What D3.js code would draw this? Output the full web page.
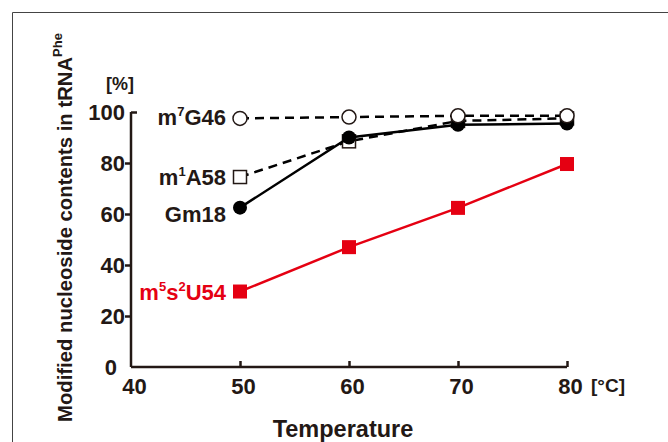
<!DOCTYPE html>
<html>
<head>
<meta charset="utf-8">
<script src="https://cdn.jsdelivr.net/npm/d3@7"></script>
<style>
  body { margin: 0; background: #fff; }
  svg text { font-family: "Liberation Sans", Arial, sans-serif; font-weight: bold; }
</style>
</head>
<body>
<svg id="chart" width="668" height="442"></svg>
<script>
// dados
const temps = [50, 60, 70, 80];
const xTicks = [40, 50, 60, 70, 80];
const yTicks = [0, 20, 40, 60, 80, 100];
const m7G46 = [97.5, 98, 98.5, 98.5];
const m1A58 = [74.5, 88.5, 96.5, 97.5];
const gm18 = [62.5, 90, 95, 95.5];
const m5s2U54 = [29.6, 47, 62.4, 79.6];

const ink = "#231815";
const red = "#e50012";

const svg = d3.select("#chart");

// moldura
svg.append("path")
  .attr("d", "M12.5,442 V12.5 H668")
  .attr("fill", "none")
  .attr("stroke", "#444")
  .attr("stroke-width", 1);

const x = d3.scaleLinear().domain([40, 80]).range([131, 567]);
const y = d3.scaleLinear().domain([0, 100]).range([367, 112]);

// eixo Y
const yAxis = svg.append("g")
  .attr("transform", `translate(${x(40)},0)`)
  .call(d3.axisLeft(y).tickValues(yTicks).tickSize(6).tickPadding(0));
yAxis.select(".domain").attr("d", `M0,${y(0)} V${y(100)}`);
yAxis.selectAll("line").attr("stroke", ink).attr("stroke-width", 2.5);
yAxis.selectAll(".tick").filter(d => d === 0).select("line").remove();
yAxis.selectAll(".tick").filter(d => d === 100).select("line").attr("x2", 6);
yAxis.selectAll("text")
  .attr("font-size", 22).attr("fill", ink)
  .attr("dy", "0.36em");
yAxis.selectAll(".tick").filter(d => d === 0).select("text").attr("dx", -8);

// eixo X
const xAxis = svg.append("g")
  .attr("transform", `translate(0,${y(0)})`)
  .call(d3.axisBottom(x).tickValues(xTicks).tickSize(-6).tickPadding(0));
xAxis.select(".domain").attr("d", `M${x(40)},0 H${x(80)}`);
xAxis.selectAll("line").attr("stroke", ink).attr("stroke-width", 2.5);
xAxis.selectAll(".tick").filter(d => d === 40).select("line").remove();
xAxis.selectAll("text")
  .attr("font-size", 22).attr("fill", ink)
  .attr("y", 0).attr("dy", 27).attr("dx", 3);
svg.selectAll(".domain").attr("stroke", ink).attr("stroke-width", 2.5);

// unidades
svg.append("text").attr("x", 120).attr("y", 90)
  .attr("text-anchor", "middle").attr("font-size", 18).attr("fill", ink)
  .text("[%]");
svg.append("text").attr("x", 591).attr("y", 392)
  .attr("font-size", 19).attr("fill", ink)
  .text("[°C]");

// titulo eixo Y
const yTitle = svg.append("text")
  .attr("transform", "translate(72,422) rotate(-90)")
  .attr("font-size", 20.3).attr("fill", ink);
yTitle.append("tspan").text("Modified nucleoside contents in tRNA");
yTitle.append("tspan").attr("font-size", 13).attr("dy", -10).text("Phe");

// titulo eixo X
svg.append("text").attr("x", 343).attr("y", 437)
  .attr("text-anchor", "middle").attr("font-size", 23.5).attr("fill", ink)
  .text("Temperature");

const line = d3.line().x(d => x(d[0])).y(d => y(d[1]));
const pts = vals => temps.map((t, i) => [t, vals[i]]);

// m1A58 - quadrado aberto, tracejado
svg.append("path").datum(pts(m1A58)).attr("d", line)
  .attr("fill", "none").attr("stroke", "#000").attr("stroke-width", 2.5)
  .attr("stroke-dasharray", "9,6");
svg.selectAll("rect.m1a").data(pts(m1A58)).enter().append("rect")
  .attr("x", d => x(d[0]) - 6.5).attr("y", d => y(d[1]) - 6.5)
  .attr("width", 13).attr("height", 13)
  .attr("fill", "#fff").attr("stroke", ink).attr("stroke-width", 1.5);

// Gm18 - circulo cheio, linha continua
svg.append("path").datum(pts(gm18)).attr("d", line)
  .attr("fill", "none").attr("stroke", "#000").attr("stroke-width", 2.5);
svg.selectAll("circle.gm").data(pts(gm18)).enter().append("circle")
  .attr("cx", d => x(d[0])).attr("cy", d => y(d[1])).attr("r", 7)
  .attr("fill", "#000");

// m7G46 - circulo aberto, tracejado
svg.append("path").datum(pts(m7G46)).attr("d", line)
  .attr("fill", "none").attr("stroke", "#000").attr("stroke-width", 2.5)
  .attr("stroke-dasharray", "9,6");
svg.selectAll("circle.m7").data(pts(m7G46)).enter().append("circle")
  .attr("cx", d => x(d[0])).attr("cy", d => y(d[1])).attr("r", 7)
  .attr("fill", "#fff").attr("stroke", ink).attr("stroke-width", 1.5);

// m5s2U54 - quadrado vermelho
svg.append("path").datum(pts(m5s2U54)).attr("d", line)
  .attr("fill", "none").attr("stroke", red).attr("stroke-width", 2.5);
svg.selectAll("rect.m5").data(pts(m5s2U54)).enter().append("rect")
  .attr("x", d => x(d[0]) - 7).attr("y", d => y(d[1]) - 7)
  .attr("width", 14).attr("height", 14)
  .attr("fill", red);

// rotulos das series (sobrescrito com dy para cima e volta na parte seguinte)
function label(parts, yy, color) {
  const t = svg.append("text").attr("x", 226).attr("y", yy)
    .attr("text-anchor", "end").attr("font-size", 22).attr("fill", color);
  let up = false;
  parts.forEach(p => {
    const s = t.append("tspan").text(p.s);
    if (p.sup) {
      s.attr("font-size", 13).attr("dy", -9);
      up = true;
    } else if (up) {
      s.attr("dy", 9);
      up = false;
    }
  });
}
label([{s: "m"}, {s: "7", sup: true}, {s: "G46"}], y(m7G46[0]) + 7, ink);
label([{s: "m"}, {s: "1", sup: true}, {s: "A58"}], y(m1A58[0]) + 8, ink);
label([{s: "Gm18"}], y(gm18[0]) + 14, ink);
label([{s: "m"}, {s: "5", sup: true}, {s: "s"}, {s: "2", sup: true}, {s: "U54"}], y(m5s2U54[0]) + 8, red);
</script>
</body>
</html>
